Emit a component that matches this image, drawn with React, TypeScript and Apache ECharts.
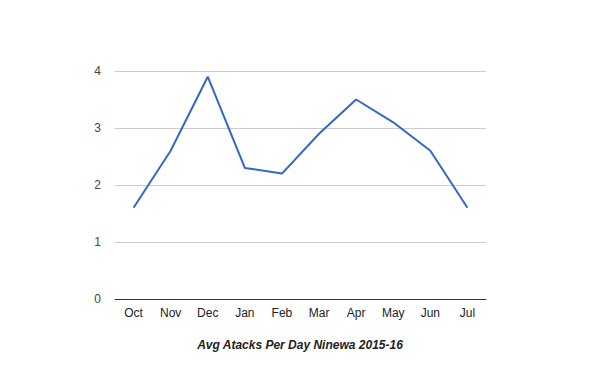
import React, { useEffect, useRef } from "react";
import * as echarts from "echarts";

const months = ["Oct", "Nov", "Dec", "Jan", "Feb", "Mar", "Apr", "May", "Jun", "Jul"];
const attacks = [1.6, 2.6, 3.9, 2.3, 2.2, 2.9, 3.5, 3.1, 2.6, 1.6];
const chartTitle = "Avg Atacks Per Day Ninewa 2015-16";

export default function App() {
  const ref = useRef<HTMLDivElement>(null);
  useEffect(() => {
    if (!ref.current) return;
    const chart = echarts.init(ref.current, undefined, { renderer: "svg" });
    chart.setOption({
      animation: false,
      backgroundColor: "#ffffff",
      title: {
        text: chartTitle,
        left: "center",
        top: 334,
        textStyle: {
          fontFamily: "Liberation Sans, Arial, sans-serif",
          fontSize: 12,
          fontWeight: "bold",
          fontStyle: "italic",
          color: "#222",
        },
      },
      grid: { left: 115, right: 114, top: 71, bottom: 72 },
      xAxis: {
        type: "category",
        data: months,
        boundaryGap: true,
        axisLine: { show: true, lineStyle: { color: "#333", width: 1 } },
        axisTick: { show: false },
        axisLabel: {
          color: "#222",
          fontFamily: "Liberation Sans, Arial, sans-serif",
          fontSize: 12,
          margin: 8,
        },
      },
      yAxis: {
        type: "value",
        min: 0,
        max: 4,
        interval: 1,
        axisLine: { show: false },
        axisTick: { show: false },
        splitLine: { lineStyle: { color: "#cccccc", width: 1 } },
        axisLabel: {
          color: "#444",
          fontFamily: "Liberation Sans, Arial, sans-serif",
          fontSize: 12,
          margin: 14,
        },
      },
      series: [
        {
          type: "line",
          data: attacks,
          symbol: "none",
          lineStyle: { color: "#3366cc", width: 2 },
          itemStyle: { color: "#3366cc" },
        },
      ],
    });
    return () => chart.dispose();
  }, []);
  return (
    <div
      ref={ref}
      style={{ position: "fixed", left: 0, top: 0, width: 600, height: 371 }}
    />
  );
}
